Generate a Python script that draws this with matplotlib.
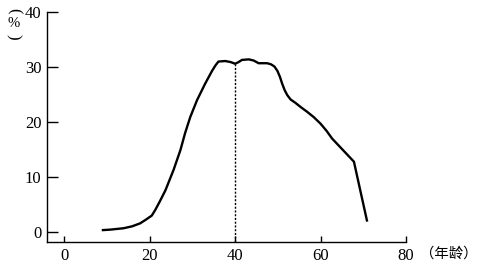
import matplotlib

matplotlib.use("Agg")
import matplotlib.pyplot as plt  # noqa: E402

# age (years) vs percentage
age = [8.8, 10.8, 13.9, 15.9, 17.8, 19.0, 20.5, 21.3, 22.4, 23.7, 25.6, 27.2,
       28.3, 29.5, 31.1, 33.0, 34.6, 35.4, 36.1, 37.7, 39.0, 40.0, 40.8, 41.6,
       43.2, 44.3, 44.8, 45.5, 47.5, 48.4, 49.2, 49.9, 50.5, 51.0, 51.6, 52.2,
       53.0, 54.1, 55.4, 56.8, 58.4, 60.0, 61.4, 62.7, 67.8, 70.9]
pct = [0.35, 0.45, 0.7, 1.05, 1.6, 2.2, 3.0, 4.0, 5.6, 7.6, 11.3, 14.9,
       18.0, 20.9, 24.0, 27.0, 29.3, 30.3, 31.0, 31.1, 30.9, 30.6, 30.9, 31.3,
       31.4, 31.2, 31.0, 30.7, 30.7, 30.5, 30.1, 29.3, 28.2, 27.0, 25.8, 24.9,
       24.1, 23.5, 22.7, 21.9, 20.9, 19.7, 18.4, 17.0, 12.8, 1.9]
peak_age = 40.0
peak_pct = 30.6
xticks = [0, 20, 40, 60, 80]
yticks = [0, 10, 20, 30, 40]

SERIF = ["Liberation Serif", "DejaVu Serif"]
CJK = ["Noto Sans CJK SC", "DejaVu Sans"]

fig = plt.figure(figsize=(4.8, 2.68), dpi=100)
ax = fig.add_axes([0.098, 0.097, 0.748, 0.858])

ax.plot(age, pct, color="black", lw=1.7, solid_joinstyle="round", solid_capstyle="butt")
ax.plot([peak_age, peak_age], [-1.8, peak_pct], color="black", lw=1.0, ls=(0, (1.5, 1.2)))

ax.set_xlim(-4, 80)
ax.set_ylim(-1.8, 40)
ax.spines[["top", "right"]].set_visible(False)
for s in ("left", "bottom"):
    ax.spines[s].set_linewidth(1.0)

ax.set_xticks(xticks, [str(t) for t in xticks], family=SERIF, fontsize=12)
ax.set_yticks(yticks, [str(t) for t in yticks], family=SERIF, fontsize=12)
ax.tick_params(axis="x", direction="in", length=4.3, width=1.0, pad=4)
ax.tick_params(axis="y", direction="in", length=7.7, width=1.0, pad=4)

# x label to the right of the last tick, y label stacked vertically at top-left
fig.text(0.874, 0.052, "（年龄）", family=CJK, fontsize=10.4, ha="left", va="center")
fig.text(0.028, 0.960, "(", family=SERIF, fontsize=12, rotation=-90,
         ha="center", va="center")
fig.text(0.028, 0.912, "%", family=SERIF, fontsize=10.5, ha="center", va="center")
fig.text(0.028, 0.864, ")", family=SERIF, fontsize=12, rotation=-90,
         ha="center", va="center")

fig.savefig("out.png", dpi=100)
plt.close(fig)
